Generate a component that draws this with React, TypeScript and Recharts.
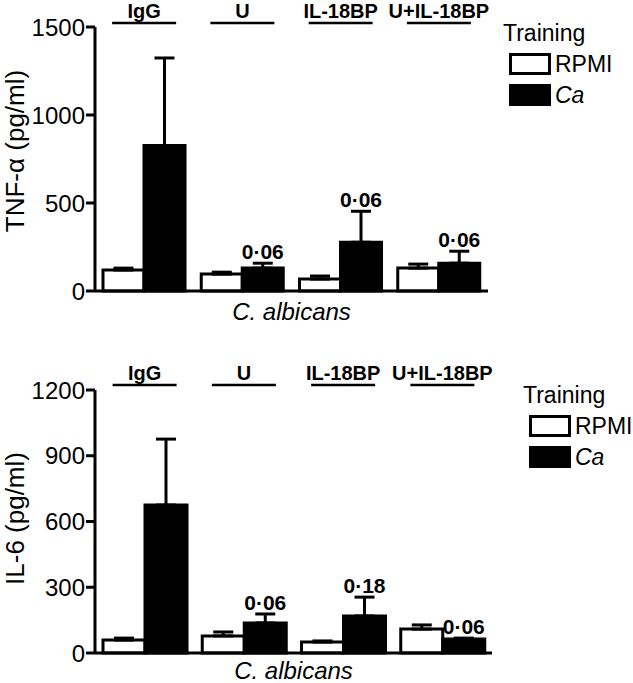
import React from 'react'
import { BarChart, Bar, XAxis, YAxis, ErrorBar, LabelList } from 'recharts'

const categories = ['IgG', 'U', 'IL-18BP', 'U+IL-18BP']

// TNF-alpha (pg/ml)
const tnfRpmi = [119, 96, 68, 130]
const tnfRpmiErr = [11, 11, 17, 23]
const tnfCa = [826, 130, 277, 158]
const tnfCaErr = [498, 28, 176, 68]
const tnfTicks = [0, 500, 1000, 1500]
const tnfPValues = ['', '0·06', '0·06', '0·06']

// IL-6 (pg/ml)
const il6Rpmi = [59, 78, 50, 109]
const il6RpmiErr = [9, 18, 5, 19]
const il6Ca = [675, 137, 169, 64]
const il6CaErr = [301, 41, 86, 4]
const il6Ticks = [0, 300, 600, 900, 1200]
const il6PValues = ['', '0·06', '0·18', '0·06']

const seriesNames = ['RPMI', 'Ca']
const seriesFills = ['#ffffff', '#000000']

const FONT = 'Arial, "Liberation Sans", Helvetica, sans-serif'

function buildRows(rpmi: number[], rpmiErr: number[], ca: number[], caErr: number[]) {
  return categories.map((name, i) => ({
    name,
    rpmi: rpmi[i],
    rpmiErr: [0, rpmiErr[i]],
    ca: ca[i],
    caErr: [0, caErr[i]],
  }))
}

function GroupTick({ x, payload }: any) {
  return (
    <g>
      <text x={x} y={18} textAnchor="middle" fontFamily={FONT} fontWeight="bold" fontSize={20} fill="#000">
        {payload.value}
      </text>
      <line x1={x - 32} x2={x + 32} y1={23} y2={23} stroke="#000" strokeWidth={2.5} />
    </g>
  )
}

function makePLabel(pValues: string[], errs: number[]) {
  return (props: any) => {
    const { x, y, width, height, index, value } = props
    const label = pValues[index]
    if (!label) return null
    const errPx = value > 0 ? (errs[index] * height) / value : 0
    return (
      <text
        x={x + width / 2}
        y={y - errPx - 4}
        textAnchor="middle"
        fontFamily={FONT}
        fontWeight="bold"
        fontSize={21}
        fill="#000"
      >
        {label}
      </text>
    )
  }
}

function TrainingLegend({ left }: { left: number }) {
  return (
    <div
      style={{
        position: 'absolute',
        left,
        top: 18,
        fontFamily: FONT,
        fontSize: 23,
        color: '#000',
        lineHeight: '30px',
        whiteSpace: 'nowrap',
      }}
    >
      <div>Training</div>
      {seriesNames.map((name, i) => (
        <div key={name} style={{ display: 'flex', alignItems: 'center', height: 31, marginLeft: 6 }}>
          <span
            style={{
              display: 'inline-block',
              width: 36,
              height: 16,
              border: '3px solid #000',
              background: seriesFills[i],
            }}
          />
          <span style={{ marginLeft: 4, fontStyle: name === 'Ca' ? 'italic' : 'normal' }}>{name}</span>
        </div>
      ))}
    </div>
  )
}

interface PanelProps {
  rows: any[]
  ticks: number[]
  yLabel: string
  pValues: string[]
  caErr: number[]
  height: number
  plotTop: number
  bottomAxis: number
  rightMargin: number
  legendLeft: number
  yLabelShift: number
  xLabelDrop: number
}

function Panel({ rows, ticks, yLabel, pValues, caErr, height, plotTop, bottomAxis, rightMargin, legendLeft, yLabelShift, xLabelDrop }: PanelProps) {
  return (
    <div style={{ position: 'relative', width: 633, height }}>
      <BarChart
        width={633}
        height={height}
        data={rows}
        margin={{ top: 0, right: rightMargin, bottom: 0, left: 0 }}
        barCategoryGap={8}
        barGap={0}
      >
        <XAxis
          xAxisId="top"
          orientation="top"
          dataKey="name"
          height={plotTop}
          axisLine={false}
          tickLine={false}
          tick={<GroupTick />}
          interval={0}
        />
        <XAxis
          xAxisId="bottom"
          dataKey="name"
          height={bottomAxis}
          tick={false}
          tickLine={false}
          axisLine={{ stroke: '#000', strokeWidth: 3 }}
          label={{
            content: (p: any) => {
              const vb = p.viewBox
              return (
                <text
                  x={vb.x + vb.width / 2}
                  y={vb.y + xLabelDrop}
                  textAnchor="middle"
                  fontFamily={FONT}
                  fontStyle="italic"
                  fontSize={24}
                  fill="#000"
                >
                  C. albicans
                </text>
              )
            },
          }}
        />
        <YAxis
          width={95}
          domain={[ticks[0], ticks[ticks.length - 1]]}
          ticks={ticks}
          interval={0}
          tickSize={9}
          tickMargin={1}
          axisLine={{ stroke: '#000', strokeWidth: 3 }}
          tickLine={{ stroke: '#000', strokeWidth: 3 }}
          tick={{ fill: '#000', fontSize: 24, fontFamily: FONT }}
          label={{
            content: (p: any) => {
              const vb = p.viewBox
              const cx = vb.x + 24
              const cy = vb.y + vb.height / 2 + yLabelShift
              return (
                <text
                  x={cx}
                  y={cy}
                  transform={`rotate(-90 ${cx} ${cy})`}
                  textAnchor="middle"
                  fontFamily={FONT}
                  fontSize={26}
                  fill="#000"
                >
                  {yLabel}
                </text>
              )
            },
          }}
        />
        <Bar xAxisId="bottom" dataKey="rpmi" name="RPMI" fill="#ffffff" stroke="#000" strokeWidth={3} isAnimationActive={false}>
          <ErrorBar dataKey="rpmiErr" direction="y" width={10} stroke="#000" strokeWidth={3} />
        </Bar>
        <Bar xAxisId="bottom" dataKey="ca" name="Ca" fill="#000000" stroke="#000" strokeWidth={3} isAnimationActive={false}>
          <ErrorBar dataKey="caErr" direction="y" width={10} stroke="#000" strokeWidth={3} />
          <LabelList dataKey="ca" content={makePLabel(pValues, caErr)} />
        </Bar>
      </BarChart>
      <TrainingLegend left={legendLeft} />
    </div>
  )
}

export default function App() {
  const tnfRows = buildRows(tnfRpmi, tnfRpmiErr, tnfCa, tnfCaErr)
  const il6Rows = buildRows(il6Rpmi, il6RpmiErr, il6Ca, il6CaErr)
  return (
    <div style={{ position: 'absolute', left: 0, top: 0, width: 633, height: 683, background: '#fff' }}>
      <div style={{ position: 'absolute', left: 0, top: 0 }}>
        <Panel
          rows={tnfRows}
          ticks={tnfTicks}
          yLabel="TNF-α (pg/ml)"
          pValues={tnfPValues}
          caErr={tnfCaErr}
          height={330}
          plotTop={27}
          bottomAxis={39}
          rightMargin={145}
          legendLeft={503}
          yLabelShift={-8}
          xLabelDrop={29}
        />
      </div>
      <div style={{ position: 'absolute', left: 0, top: 362 }}>
        <Panel
          rows={il6Rows}
          ticks={il6Ticks}
          yLabel="IL-6 (pg/ml)"
          pValues={il6PValues}
          caErr={il6CaErr}
          height={321}
          plotTop={28}
          bottomAxis={30}
          rightMargin={141}
          legendLeft={523}
          yLabelShift={-3}
          xLabelDrop={26}
        />
      </div>
    </div>
  )
}
